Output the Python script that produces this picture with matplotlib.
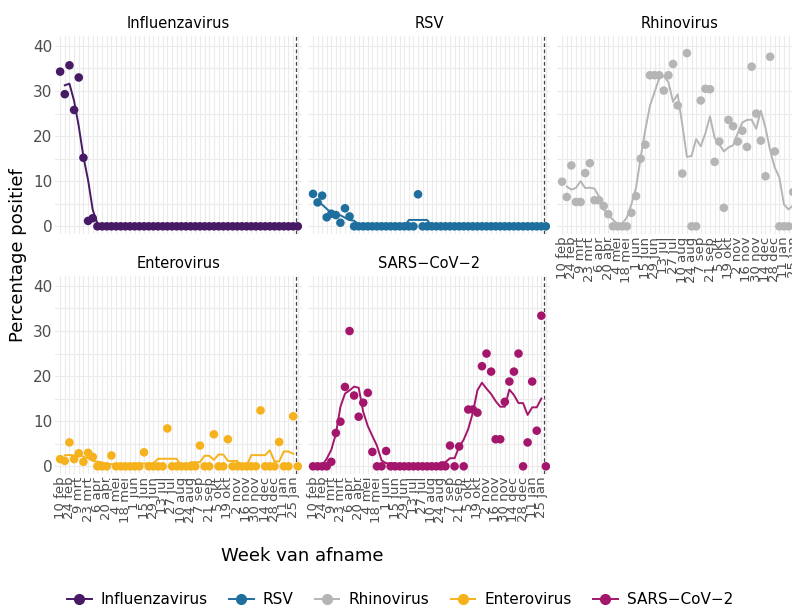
import numpy as np
import pandas as pd
import matplotlib
matplotlib.use("Agg")
import matplotlib.pyplot as plt
from matplotlib.lines import Line2D

weeks = ["10 feb", "24 feb", "9 mrt", "23 mrt", "6 apr", "20 apr", "4 mei", "18 mei",
         "1 jun", "15 jun", "29 jun", "13 jul", "27 jul", "10 aug", "24 aug", "7 sep",
         "21 sep", "5 okt", "19 okt", "2 nov", "16 nov", "30 nov", "14 dec", "28 dec",
         "11 jan", "25 jan"]

influenza = [34.3, 29.3, 35.7, 25.8, 33.0, 15.2, 1.2, 1.8] + [0] * 44
rsv = [7.2, 5.3, 6.8, 2.0, 2.8, 2.5, 0.8, 4.0, 2.2] + [0] * 14 + [7.1] + [0] * 28
rhino = [9.9, 6.5, 13.5, 5.4, 5.4, 11.8, 14.0, 5.8, 5.8, 4.5, 2.7, 0, 0, 0, 0, 3.0,
         6.7, 15.0, 18.1, 33.5, 33.5, 33.5, 30.1, 33.5, 36.0, 26.8, 11.7, 38.4, 0, 0,
         27.9, 30.5, 30.4, 14.3, 18.8, 4.1, 23.6, 22.2, 18.8, 21.2, 17.6, 35.4, 25.0,
         19.0, 11.1, 37.6, 16.6, 0, 0, 0, 7.6, 11.1]
entero = [1.6, 1.2, 5.3, 1.6, 2.9, 1.0, 3.0, 2.1, 0, 0, 0, 2.4, 0, 0, 0, 0, 0, 0, 3.1,
          0, 0, 0, 0, 8.4, 0, 0, 0, 0, 0, 0, 4.6, 0, 0, 7.1, 0, 0, 6.0, 0, 0, 0, 0, 0,
          0, 12.4, 0, 0, 0, 5.4, 0, 0, 11.1, 0]
sars = [0, 0, 0, 0, 1.0, 7.4, 9.9, 17.6, 30.0, 15.7, 11.0, 14.1, 16.3, 3.2, 0, 0, 3.4]
sars += [0] * 13
sars += [4.6, 0, 4.4, 0, 12.6, 12.6, 11.9, 22.2, 25.0, 21.0, 6.0, 6.0, 14.3, 18.8,
         21.0, 25.0, 0, 5.3, 18.8, 7.9, 33.4, 0]

series = [("Influenzavirus", influenza, "#461a64"),
          ("RSV", rsv, "#1f6f9e"),
          ("Rhinovirus", rhino, "#b5b5b5"),
          ("Enterovirus", entero, "#f6b21c"),
          ("SARS\u2212CoV\u22122", sars, "#a3166c")]

W, H = 792, 610
fig = plt.figure(figsize=(W / 100, H / 100), dpi=100)

# panel boxes in pixels: (left, top, right, bottom)
boxes = [(55, 36, 302, 234), (308, 36, 550, 234), (557, 36, 802, 234),
         (55, 276, 302, 474), (308, 276, 550, 474)]

x = np.arange(52)
for i, ((name, vals, col), (l, t, r, b)) in enumerate(zip(series, boxes)):
    ax = fig.add_axes([l / W, 1 - b / H, (r - l) / W, (b - t) / H])
    vals = pd.Series(vals, dtype=float)
    smooth = vals.rolling(5, center=True, min_periods=4).mean()
    ax.plot(x, smooth, color=col, lw=1.4)
    ax.scatter(x, vals, color=col, s=38, zorder=3, edgecolors="none")
    ax.axvline(50.6, color="#444444", ls=(0, (3, 2)), lw=0.9)
    ax.set_xlim(-1.1, 51.9)
    ax.set_ylim(-1.7, 42.2)
    ax.set_xticks(np.arange(0, 52, 2))
    ax.set_xticks(np.arange(1, 52, 2), minor=True)
    ax.set_yticks([0, 10, 20, 30, 40])
    ax.set_yticks([5, 15, 25, 35], minor=True)
    ax.grid(True, which="both", color="#ebebeb", lw=0.8)
    ax.set_axisbelow(True)
    for s in ax.spines.values():
        s.set_visible(False)
    ax.tick_params(which="both", length=0, labelsize=10, colors="#4d4d4d", pad=2)
    ax.set_title(name, fontsize=10.5, pad=6)
    if i in (2, 3, 4):
        ax.set_xticklabels(weeks, rotation=90, fontsize=9.5, color="#4d4d4d")
    else:
        ax.set_xticklabels([])
    if i in (0, 3):
        ax.set_yticklabels(["0", "10", "20", "30", "40"], fontsize=11)
    else:
        ax.set_yticklabels([])

fig.text(18 / W, 1 - 255 / H, "Percentage positief", rotation=90, ha="center",
         va="center", fontsize=13)
fig.text(302 / W, 1 - 556 / H, "Week van afname", ha="center", va="center", fontsize=13)

handles = [Line2D([0], [0], color=c, marker="o", markersize=7, lw=1.4) for _, _, c in series]
fig.legend(handles, [s[0] for s in series], loc="center", ncol=5,
           bbox_to_anchor=(400 / W, 1 - 600 / H), frameon=False, fontsize=11,
           handlelength=1.6, columnspacing=1.4, handletextpad=0.6)

fig.savefig("out.png", dpi=100, facecolor="white")
